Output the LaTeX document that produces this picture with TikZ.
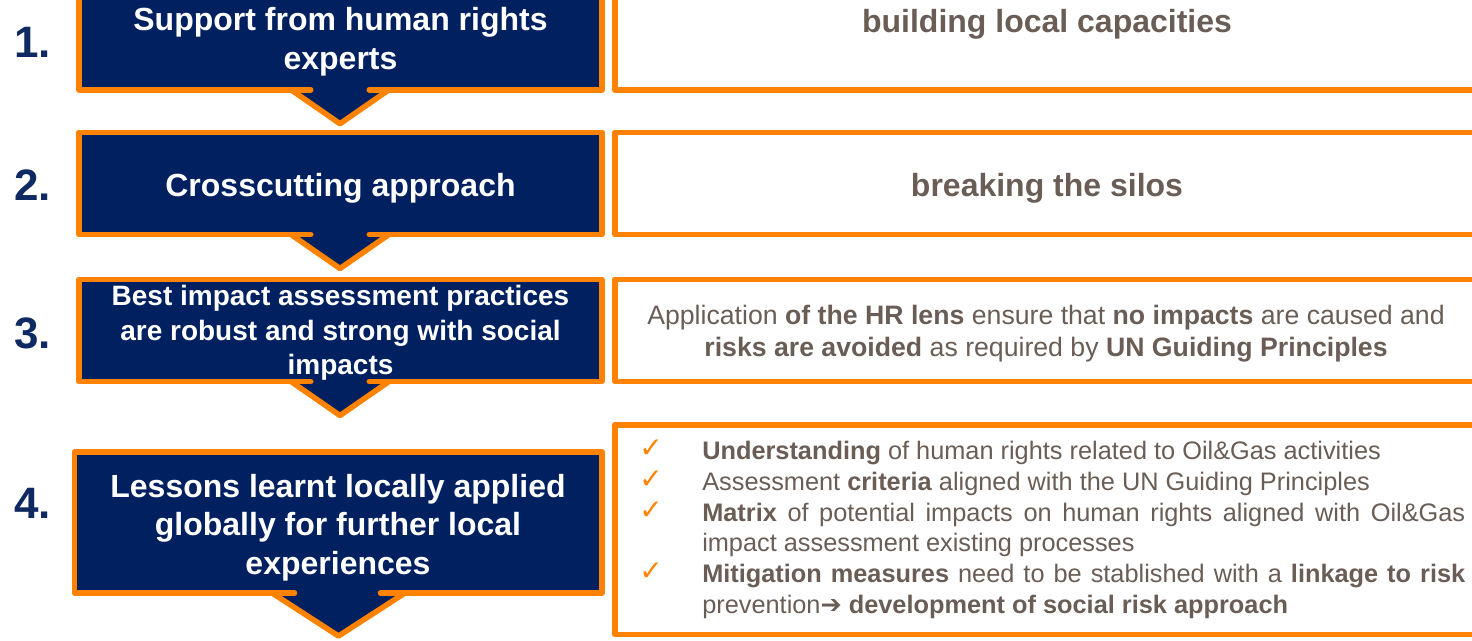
\documentclass[tikz,border=0pt]{standalone}
\usepackage{fontspec}
\setmainfont{Liberation Sans}
\newfontfamily\djvfont{DejaVu Sans}
\definecolor{boxnavy}{HTML}{002060}
\definecolor{numnavy}{HTML}{0F2A62}
\definecolor{orng}{HTML}{FF8200}
\definecolor{txtgray}{HTML}{6A5D55}
\begin{document}
\begin{tikzpicture}[x=0.75pt,y=-0.75pt,
  bord/.style={draw=orng,line width=4.125pt,line join=round,line cap=round},
  slant/.style={draw=orng,line width=4.125pt,line join=round,line cap=butt},
  navyfill/.style={fill=boxnavy},
  num/.style={anchor=base west,inner sep=0pt,text=numnavy,font=\fontsize{33}{33}\selectfont\bfseries},
  head/.style={anchor=base,inner sep=0pt,text=white,font=\fontsize{24}{24}\selectfont\bfseries},
  headsm/.style={anchor=base,inner sep=0pt,text=white,font=\fontsize{21}{21}\selectfont\bfseries},
  rhead/.style={anchor=base,inner sep=0pt,text=txtgray,font=\fontsize{24}{24}\selectfont\bfseries},
  rtext/.style={anchor=base,inner sep=0pt,text=txtgray,font=\fontsize{20}{20}\selectfont},
  litem/.style={anchor=base west,inner sep=0pt,text=txtgray,font=\fontsize{19}{19}\selectfont},
  chk/.style={anchor=base,inner sep=0pt,text=orng,font=\djvfont\fontsize{21}{21}\selectfont}]
\useasboundingbox (0,0) rectangle (1472,640);
\clip (0,0) rectangle (1472,640);

% ---------- Row 1 ----------
\fill[navyfill] (79,-20) rectangle (602,89.75);
\fill[navyfill] (291,87) -- (340,123.75) -- (389,87) -- cycle;
\draw[bord] (310.75,89.75) -- (79,89.75) -- (79,-20) -- (602,-20) -- (602,89.75) -- (369.25,89.75);
\draw[slant] (291,89.75) -- (340,123.75) -- (389,89.75);
\draw[bord] (614.75,-20) rectangle (1490,89.75);

% ---------- Row 2 ----------
\fill[navyfill] (79,132.25) rectangle (602,234.5);
\fill[navyfill] (291,231.5) -- (340,268.5) -- (389,231.5) -- cycle;
\draw[bord] (310.75,234.5) -- (79,234.5) -- (79,132.25) -- (602,132.25) -- (602,234.5) -- (369.25,234.5);
\draw[slant] (291,234.5) -- (340,268.5) -- (389,234.5);
\draw[bord] (614.75,132.25) rectangle (1490,234.5);

% ---------- Row 3 ----------
\fill[navyfill] (79,279.5) rectangle (602,381.5);
\fill[navyfill] (291,378.5) -- (340,415.5) -- (389,378.5) -- cycle;
\draw[bord] (310.75,381.5) -- (79,381.5) -- (79,279.5) -- (602,279.5) -- (602,381.5) -- (369.25,381.5);
\draw[slant] (291,381.5) -- (340,415.5) -- (389,381.5);
\draw[bord] (614.75,279.5) rectangle (1490,381.5);

% ---------- Row 4 ----------
\fill[navyfill] (74.5,452) rectangle (602,593);
\fill[navyfill] (272,590) -- (338.5,636) -- (405,590) -- cycle;
\draw[bord] (294.5,593) -- (74.5,593) -- (74.5,452) -- (602,452) -- (602,593) -- (380.5,593);
\draw[slant] (272,593) -- (338.5,636) -- (405,593);
\draw[bord] (614.75,424.75) rectangle (1490,634.25);

% ---------- Numbers ----------
\node[num] (n1) at (14,57) {1.};
\node[num] (n2) at (14,200.5) {2.};
\node[num] (n3) at (14,348) {3.};
\node[num] (n4) at (14,518) {4.};

% ---------- Left texts ----------
\node[head] (l1a) at (340.5,30.5) {Support from human rights};
\node[head] (l1b) at (340.5,69.5) {experts};
\node[head] (l2a) at (340.5,196.5) {Crosscutting approach};
\node[headsm] (l3a) at (340.5,305.5) {Best impact assessment practices};
\node[headsm] (l3b) at (340.5,340) {are robust and strong with social};
\node[headsm] (l3c) at (340.5,374) {impacts};
\node[head] (l4a) at (338,497) {Lessons learnt locally applied};
\node[head] (l4b) at (338,535.5) {globally for further local};
\node[head] (l4c) at (338,574) {experiences};

% ---------- Right texts ----------
\node[rhead] (r1) at (1047,32.5) {building local capacities};
\node[rhead] (r2) at (1047,196.5) {breaking the silos};
\node[rtext] (r3a) at (1046,324.5) {Application \textbf{of the HR lens} ensure that \textbf{no impacts} are caused and};
\node[rtext] (r3b) at (1046,356) {\textbf{risks are avoided} as required by \textbf{UN Guiding Principles}};

% ---------- List ----------
\node[chk] (c1) at (651,457.5) {✓};
\node[chk] (c2) at (651,488.5) {✓};
\node[chk] (c3) at (651,519) {✓};
\node[chk] (c4) at (651,580.5) {✓};
\node[litem] (i1) at (702,459.5) {\textbf{Understanding} of human rights related to Oil\&Gas activities};
\node[litem] (i2) at (702,490.3) {Assessment \textbf{criteria} aligned with the UN Guiding Principles};
\node[litem] (i3a) at (702,521.1) {\makebox[572.25pt][s]{\textbf{Matrix} of potential impacts on human rights aligned with Oil\&Gas}};
\node[litem] (i3b) at (702,551.9) {impact assessment existing processes};
\node[litem] (i4a) at (702,582.7) {\makebox[572.25pt][s]{\textbf{Mitigation measures} need to be stablished with a \textbf{linkage to risk}}};
\node[litem] (i4b) at (702,613.5) {prevention{\djvfont\bfseries ➔}\textbf{ development of social risk approach}};
\end{tikzpicture}
\end{document}
